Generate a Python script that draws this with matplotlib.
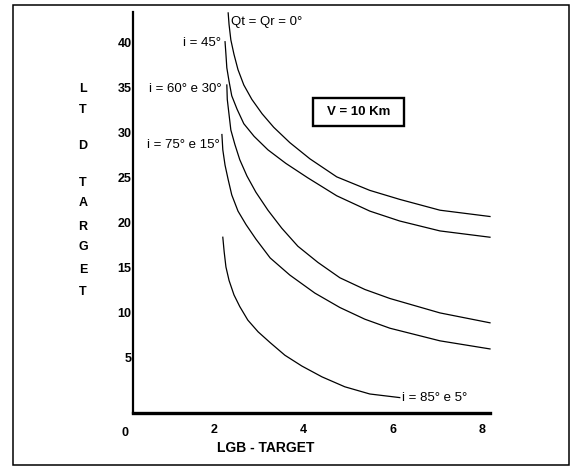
import matplotlib.pyplot as plt

plt.rcParams["font.family"] = ["Liberation Sans", "DejaVu Sans"]

# LGB / LTD readings for each incidence angle (V = 10 Km)
x_q0 = [2.32, 2.34, 2.38, 2.45, 2.54, 2.67, 2.85, 3.08, 3.34, 3.70, 4.15,
        4.75, 5.49, 6.16, 7.06, 8.18]
y_q0 = [43.3, 42.0, 40.3, 38.7, 37.0, 35.3, 33.7, 32.1, 30.6, 28.9, 27.1,
        25.1, 23.6, 22.6, 21.4, 20.7]

x_i45 = [2.25, 2.27, 2.29, 2.34, 2.40, 2.52, 2.67, 2.90, 3.21, 3.61, 4.10,
         4.75, 5.49, 6.16, 7.06, 8.18]
y_i45 = [40.1, 38.7, 37.2, 35.7, 34.1, 32.6, 31.0, 29.6, 28.1, 26.6, 25.0,
         23.0, 21.3, 20.2, 19.1, 18.4]

x_i60 = [2.29, 2.30, 2.34, 2.38, 2.47, 2.58, 2.74, 2.94, 3.21, 3.52, 3.88,
         4.33, 4.82, 5.38, 5.94, 7.06, 8.18]
y_i60 = [35.3, 33.7, 32.0, 30.3, 28.7, 27.0, 25.2, 23.4, 21.4, 19.4, 17.4,
         15.6, 13.9, 12.6, 11.6, 10.0, 8.9]

x_i75 = [2.18, 2.20, 2.25, 2.32, 2.40, 2.54, 2.72, 2.94, 3.26, 3.70, 4.26,
         4.82, 5.38, 5.94, 7.06, 8.18]
y_i75 = [29.8, 28.1, 26.4, 24.8, 23.1, 21.3, 19.8, 18.2, 16.1, 14.2, 12.2,
         10.6, 9.3, 8.3, 6.9, 6.0]

x_i85 = [2.20, 2.23, 2.27, 2.34, 2.45, 2.58, 2.76, 2.99, 3.26, 3.59, 3.97,
         4.42, 4.93, 5.49, 6.16]
y_i85 = [18.4, 16.8, 15.1, 13.6, 12.0, 10.7, 9.2, 7.9, 6.7, 5.3, 4.1,
         2.9, 1.8, 1.0, 0.6]

x_ticks = [2, 4, 6, 8]
y_ticks = [5, 10, 15, 20, 25, 30, 35, 40]

W, H = 571, 466
fig = plt.figure(figsize=(W / 100, H / 100), dpi=100)

# outer frame of the scanned figure
fig.patches.append(plt.Rectangle((13 / W, 1 - 465 / H), 556 / W, 460 / H,
                                 transform=fig.transFigure, fill=False,
                                 lw=1.1, ec="black"))

ax = fig.add_axes([133 / W, 1 - 413 / H, (490 - 133) / W, (413 - 12) / H])
ax.set_xlim(0.19, 8.18)
ax.set_ylim(-1.11, 43.4)

for xs, ys in [(x_q0, y_q0), (x_i45, y_i45), (x_i60, y_i60),
               (x_i75, y_i75), (x_i85, y_i85)]:
    ax.plot(xs, ys, color="black", lw=0.9, clip_on=False,
            solid_joinstyle="round")

ax.spines["top"].set_visible(False)
ax.spines["right"].set_visible(False)
ax.spines["left"].set_linewidth(1.6)
ax.spines["bottom"].set_linewidth(2.4)

ax.set_xticks(x_ticks)
ax.set_yticks(y_ticks)
ax.tick_params(length=0, labelsize=9)
ax.tick_params(axis="x", pad=8)
ax.tick_params(axis="y", pad=1)
for lab in ax.get_xticklabels() + ax.get_yticklabels():
    lab.set_fontweight("bold")
# corner "0" sits left of the axis line
ax.text(0, -0.035, "0", transform=ax.get_xaxis_transform(), ha="center",
        va="top", fontsize=9, fontweight="bold")

# curve labels
ax.text(2.38, 42.3, "Qt = Qr = 0°", ha="left", va="center", fontsize=9.5)
ax.text(2.17, 40.0, "i = 45°", ha="right", va="center", fontsize=9.5)
ax.text(2.17, 34.9, "i = 60° e 30°", ha="right", va="center", fontsize=9.5)
ax.text(2.14, 28.6, "i = 75° e 15°", ha="right", va="center", fontsize=9.5)
ax.text(6.2, 0.6, "i = 85° e 5°", ha="left", va="center", fontsize=9.5)

# boxed velocity note
ax.add_patch(plt.Rectangle((4.22, 30.8), 2.03, 3.0, fill=False, ec="black",
                           lw=1.7))
ax.text(5.235, 32.3, "V = 10 Km", ha="center", va="center", fontsize=9.5,
        fontweight="bold")

# axis titles
fig.text(266 / W, 1 - 448 / H, "LGB - TARGET", ha="center", va="center",
         fontsize=10, fontweight="bold")
letters = "LTDTARGET"
letter_y = [89, 110, 146, 183, 203, 227, 247, 270, 292]
for ch, py in zip(letters, letter_y):
    fig.text(83 / W, 1 - py / H, ch, ha="center", va="center",
             fontsize=9, fontweight="bold")

fig.savefig("out.png", dpi=100)
